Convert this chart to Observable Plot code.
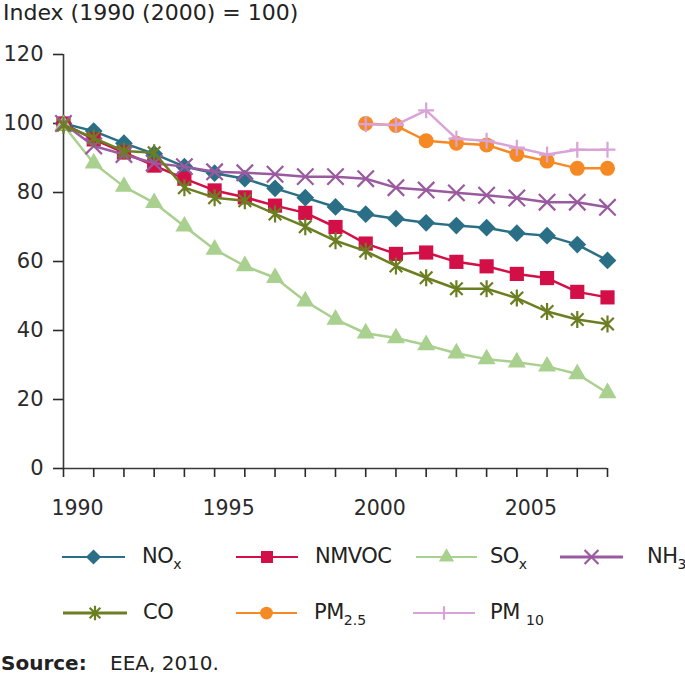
<!DOCTYPE html>
<html>
<head>
<meta charset="utf-8">
<script src="https://cdn.jsdelivr.net/npm/d3@7"></script>
<script src="https://cdn.jsdelivr.net/npm/@observablehq/plot@0.6"></script>
<style>
  body { margin: 0; background: #fff; font-family: "DejaVu Sans", Verdana, sans-serif; color: #222; }
  #wrap { position: relative; width: 685px; height: 676px; overflow: hidden; background: #fff; }
  .abs { position: absolute; white-space: nowrap; }
  #title { left: 3px; top: 0px; font-size: 22px; line-height: 26px; }
  #chart { position: absolute; left: 0; top: 26px; }
  .lt { font-size: 21px; letter-spacing: -0.5px; line-height: 24px; }
  .lt sub { font-size: 14px; vertical-align: -6px; letter-spacing: 0; }
  .sw { position: absolute; overflow: visible; }
</style>
</head>
<body>
<div id="wrap">
  <div id="title" class="abs">Index (1990 (2000) = 100)</div>
  <div id="chart"></div>
  <div id="legend"></div>
  <div class="abs" style="left:1px; top:651px; font-size:20px; font-weight:bold; line-height:24px;">Source:</div>
  <div class="abs" style="left:110px; top:651px; font-size:20px; line-height:24px;">EEA, 2010.</div>
</div>
<script>
// ---- data ----
const years = [1990, 1991, 1992, 1993, 1994, 1995, 1996, 1997, 1998, 1999, 2000, 2001, 2002, 2003, 2004, 2005, 2006, 2007, 2008];
const yearsPM = [2000, 2001, 2002, 2003, 2004, 2005, 2006, 2007, 2008];
const labelYears = [1990, 1995, 2000, 2005];
const yTicks = [0, 20, 40, 60, 80, 100, 120];

const nox   = [100, 97.8, 94.3, 91.2, 87.5, 85.6, 84.0, 81.2, 78.5, 75.8, 73.7, 72.4, 71.2, 70.4, 69.8, 68.2, 67.5, 64.9, 60.3];
const nmvoc = [100, 95.4, 91.6, 87.8, 84.0, 80.6, 78.6, 76.2, 74.1, 70.0, 65.2, 62.2, 62.6, 59.9, 58.6, 56.4, 55.2, 51.2, 49.6];
const sox   = [99.5, 88.5, 81.7, 77.0, 70.2, 63.5, 58.7, 55.3, 48.5, 43.2, 39.2, 37.8, 35.8, 33.4, 31.7, 30.8, 29.6, 27.4, 21.9];
const nh3   = [100, 93.5, 91.0, 88.5, 87.5, 86.0, 85.7, 85.3, 84.6, 84.6, 84.0, 81.4, 80.7, 79.9, 79.2, 78.4, 77.2, 77.2, 75.7];
const co    = [99.5, 95.8, 92.0, 91.5, 81.4, 78.5, 77.6, 73.8, 70.1, 66.0, 63.0, 58.7, 55.3, 52.1, 52.1, 49.4, 45.5, 43.2, 41.9];
const pm25  = [100, 99.4, 95.0, 94.3, 93.8, 91.0, 89.1, 87.0, 87.0];
const pm10  = [99.8, 99.6, 103.8, 95.6, 95.0, 93.0, 91.0, 92.4, 92.4];

// ---- styles ----
const asterisk = {
  draw(context, size) {
    const r = Math.sqrt(size / Math.PI);
    const d = r * 0.74;
    context.moveTo(0, -r); context.lineTo(0, r);
    context.moveTo(-d, -d); context.lineTo(d, d);
    context.moveTo(-d, d); context.lineTo(d, -d);
  }
};
const d3Symbols = {
  diamond2: d3.symbolDiamond2, square: d3.symbolSquare, triangle: d3.symbolTriangle,
  times: d3.symbolTimes, circle: d3.symbolCircle, plus: d3.symbolPlus, asterisk: asterisk
};

const series = [
  {key: "nox",   x: years,   y: nox,   color: "#2b6f86", sym: "diamond2", r: 8,   filled: true},
  {key: "nmvoc", x: years,   y: nmvoc, color: "#d20f46", sym: "square",   r: 8,   filled: true},
  {key: "sox",   x: years,   y: sox,   color: "#a9d08e", sym: "triangle", r: 6.7, filled: true},
  {key: "nh3",   x: years,   y: nh3,   color: "#9a5aa0", sym: "times",    r: 7.5, filled: false},
  {key: "co",    x: years,   y: co,    color: "#6b7f22", sym: "asterisk", r: 8.5, filled: false},
  {key: "pm25",  x: yearsPM, y: pm25,  color: "#f58a25", sym: "circle",   r: 7.5, filled: true},
  {key: "pm10",  x: yearsPM, y: pm10,  color: "#d9a3d8", sym: "plus",     r: 5.2, filled: false}
];

const marks = [];
marks.push(Plot.ruleX([1990], {y1: 0, y2: 120, stroke: "#3a3a3a", strokeWidth: 1.6}));
marks.push(Plot.ruleY([0], {x1: 1990, x2: 2008, stroke: "#3a3a3a", strokeWidth: 1.6}));
marks.push(Plot.axisY({ticks: yTicks, tickSize: 10, tickPadding: 10, label: null, strokeWidth: 1.6, tickFormat: "d", fontSize: 21}));
marks.push(Plot.axisX({ticks: years, tickSize: 9, tickFormat: () => "", label: null, strokeWidth: 1.6}));
marks.push(Plot.axisX({ticks: labelYears, tickSize: 0, tickPadding: 32, dx: 14, label: null, tickFormat: "d", fontSize: 20.5}));

for (const s of series) {
  const data = s.x.map((yr, i) => ({year: yr, value: s.y[i]}));
  marks.push(Plot.line(data, {x: "year", y: "value", stroke: s.color, strokeWidth: 2.5}));
  const sym = s.sym === "asterisk" ? asterisk : s.sym;
  if (s.filled) {
    marks.push(Plot.dot(data, {x: "year", y: "value", symbol: sym, r: s.r, fill: s.color, stroke: "none"}));
  } else {
    marks.push(Plot.dot(data, {x: "year", y: "value", symbol: sym, r: s.r, fill: "none", stroke: s.color, strokeWidth: 2.2}));
  }
}

const chart = Plot.plot({
  width: 685,
  height: 502,
  marginTop: 28,
  marginBottom: 60,
  marginLeft: 63,
  marginRight: 78,
  x: {domain: [1990, 2008]},
  y: {domain: [0, 120]},
  style: {fontFamily: "'DejaVu Sans', Verdana, sans-serif", fontSize: "20px", color: "#2a2a2a", background: "white", overflow: "visible"},
  marks
});
document.getElementById("chart").appendChild(chart);

// ---- legend ----
const legendItems = [
  {key: "nox",   html: "NO<sub>x</sub>",       x1: 62,  x2: 125, tx: 142, cy: 557},
  {key: "nmvoc", html: "NMVOC",                x1: 236, x2: 298, tx: 315, cy: 557},
  {key: "sox",   html: "SO<sub>x</sub>",       x1: 416, x2: 477, tx: 490, cy: 557},
  {key: "nh3",   html: "NH<sub>3</sub>",       x1: 560, x2: 623, tx: 647, cy: 557},
  {key: "co",    html: "CO",                   x1: 63,  x2: 127, tx: 143, cy: 613},
  {key: "pm25",  html: "PM<sub>2.5</sub>",     x1: 236, x2: 297, tx: 314, cy: 613},
  {key: "pm10",  html: "PM <sub>10</sub>",     x1: 413, x2: 475, tx: 490, cy: 613}
];
const legend = d3.select("#legend");
for (const it of legendItems) {
  const s = series.find(d => d.key === it.key);
  const w = it.x2 - it.x1;
  const svg = legend.append("svg").attr("class", "sw")
    .attr("width", w).attr("height", 24)
    .style("left", it.x1 + "px").style("top", (it.cy - 12) + "px");
  svg.append("line").attr("x1", 0).attr("x2", w).attr("y1", 12).attr("y2", 12)
    .attr("stroke", s.color).attr("stroke-width", it.key === "nh3" || it.key === "co" ? 3 : 2);
  const rr = s.r * 0.85;
  const path = d3.symbol(d3Symbols[s.sym], Math.PI * rr * rr)();
  svg.append("path").attr("d", path).attr("transform", `translate(${w / 2},12)`)
    .attr("fill", s.filled ? s.color : "none")
    .attr("stroke", s.filled ? "none" : s.color)
    .attr("stroke-width", 2.2);
  legend.append("div").attr("class", "abs lt")
    .style("left", it.tx + "px").style("top", (it.cy - 13) + "px")
    .html(it.html);
}
</script>
</body>
</html>
